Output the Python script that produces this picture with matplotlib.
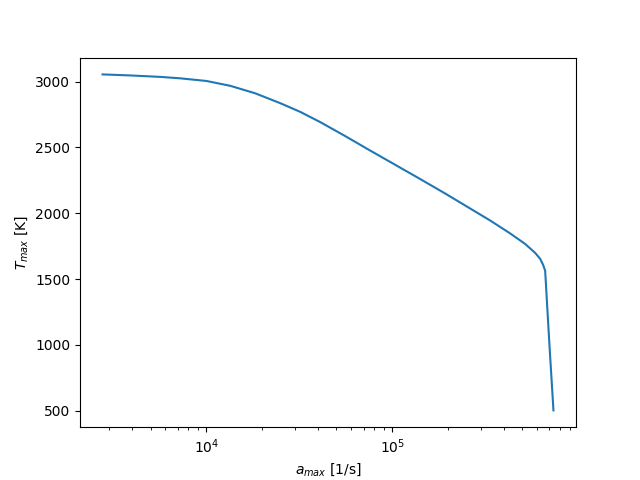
import matplotlib
matplotlib.use("Agg")
import matplotlib.pyplot as plt

a_max = [2760, 3904, 5657, 7247, 10000, 13459, 18336, 24992, 32010, 41030,
         55880, 76140, 100000, 141400, 192700, 262700, 336500, 430900,
         518900, 587300, 624600, 648200, 664500, 700000, 736400]
T_max = [3055, 3047, 3036, 3025, 3005, 2968, 2911, 2836, 2770, 2692,
         2586, 2476, 2381, 2260, 2150, 2036, 1945, 1847,
         1767, 1699, 1654, 1608, 1563, 1010, 503]

fig, ax = plt.subplots(figsize=(6.4, 4.8), dpi=100)
ax.plot(a_max, T_max)
ax.set_xscale("log")
ax.set_xlabel(r"$a_{max}$ [1/s]")
ax.set_ylabel(r"$T_{max}$ [K]")

plt.savefig("out.png")
